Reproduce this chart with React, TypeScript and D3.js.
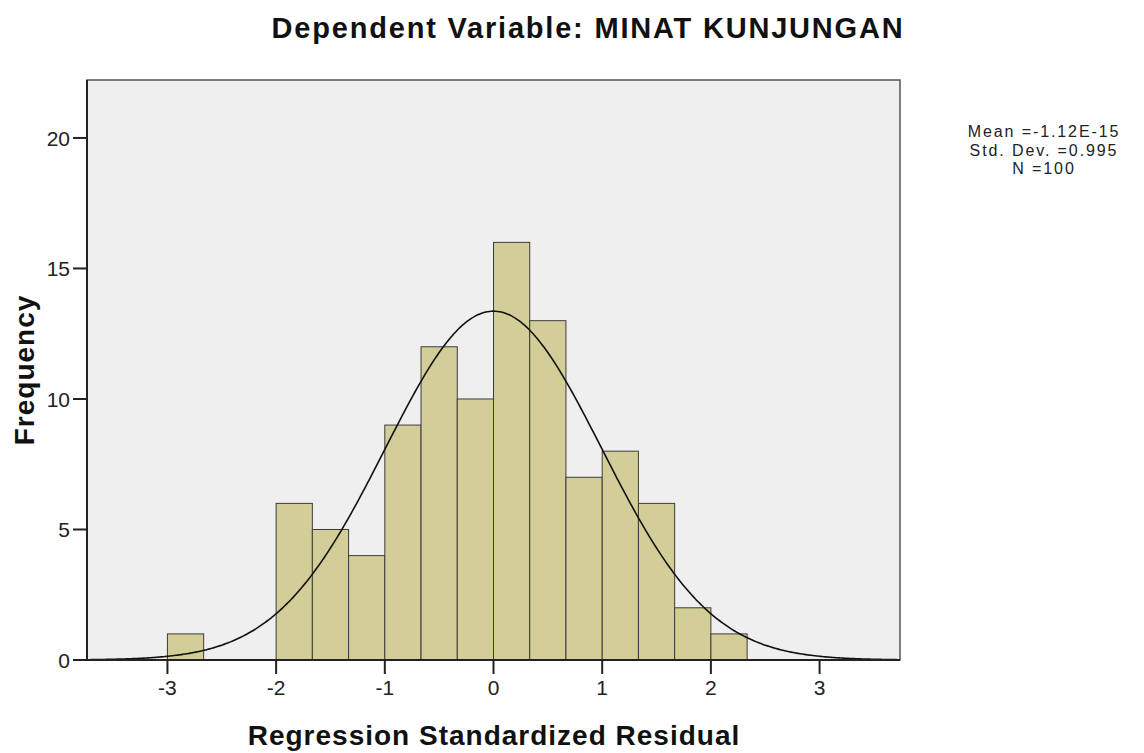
import * as d3 from "d3";
import React, { useEffect, useRef } from "react";

// histogram bins (lower edge, width 1/3) and counts
const binStarts: number[] = [-3, -2, -5 / 3, -4 / 3, -1, -2 / 3, -1 / 3, 0, 1 / 3, 2 / 3, 1, 4 / 3, 5 / 3, 2];
const counts: number[] = [1, 6, 5, 4, 9, 12, 10, 16, 13, 7, 8, 6, 2, 1];
const binWidth = 1 / 3;
const xTicks: number[] = [-3, -2, -1, 0, 1, 2, 3];
const yTicks: number[] = [0, 5, 10, 15, 20];
const stats: string[] = ["Mean =-1.12E-15", "Std. Dev. =0.995", "N =100"];
const mean = -1.12e-15;
const sd = 0.995;
const n = 100;

const App = () => {
	const ref = useRef<SVGSVGElement>(null);

	useEffect(() => {
		const svg = d3.select(ref.current);
		svg.selectAll("*").remove();
		const font = "'Liberation Sans', Arial, sans-serif";

		const loff = 87;
		const roff = 900;
		const toff = 80;
		const boff = 660;

		const xScale = d3.scaleLinear().domain([-3.74, 3.74]).range([loff, roff]);
		const yScale = d3.scaleLinear().domain([0, 22.22]).range([boff, toff]);

		svg.append("rect")
			.attr("x", loff)
			.attr("y", toff)
			.attr("width", roff - loff)
			.attr("height", boff - toff)
			.attr("fill", "#efefef")
			.attr("stroke", "#555")
			.attr("stroke-width", 1.5);

		svg.append("g")
			.selectAll("rect")
			.data(binStarts)
			.join("rect")
			.attr("x", (d) => xScale(d))
			.attr("y", (d, i) => yScale(counts[i]))
			.attr("width", (d) => xScale(d + binWidth) - xScale(d))
			.attr("height", (d, i) => boff - yScale(counts[i]))
			.attr("fill", "#d3ce97")
			.attr("stroke", "#3c3c3c")
			.attr("stroke-width", 1);

		// normal curve scaled to counts
		const curvePts = d3.range(-3.74, 3.7401, 0.02);
		const line = d3
			.line<number>()
			.x((d) => xScale(d))
			.y((d) => yScale((n * binWidth * Math.exp(-0.5 * ((d - mean) / sd) ** 2)) / (sd * Math.sqrt(2 * Math.PI))))
			.curve(d3.curveBasis);
		svg.append("path")
			.datum(curvePts)
			.attr("fill", "none")
			.attr("stroke", "#111")
			.attr("stroke-width", 1.6)
			.attr("d", line);

		// axes lines
		svg.append("line")
			.attr("x1", loff - 14).attr("x2", roff)
			.attr("y1", boff).attr("y2", boff)
			.attr("stroke", "#222").attr("stroke-width", 2);
		svg.append("line")
			.attr("x1", loff).attr("x2", loff)
			.attr("y1", toff).attr("y2", boff)
			.attr("stroke", "#222").attr("stroke-width", 2);

		const yg = svg.append("g");
		yTicks.forEach((t) => {
			yg.append("line")
				.attr("x1", loff - 14).attr("x2", loff)
				.attr("y1", yScale(t)).attr("y2", yScale(t))
				.attr("stroke", "#222").attr("stroke-width", 2);
			yg.append("text")
				.attr("x", loff - 17)
				.attr("y", yScale(t) + 8)
				.attr("text-anchor", "end")
				.attr("font-family", font)
				.attr("font-size", 21)
				.attr("fill", "#222")
				.text(t);
		});

		const xg = svg.append("g");
		xTicks.forEach((t) => {
			xg.append("line")
				.attr("x1", xScale(t)).attr("x2", xScale(t))
				.attr("y1", boff).attr("y2", boff + 14)
				.attr("stroke", "#222").attr("stroke-width", 2);
			xg.append("text")
				.attr("x", xScale(t))
				.attr("y", boff + 35)
				.attr("text-anchor", "middle")
				.attr("font-family", font)
				.attr("font-size", 21)
				.attr("fill", "#222")
				.text(t);
		});

		svg.append("text")
			.attr("x", 588)
			.attr("y", 38)
			.attr("text-anchor", "middle")
			.attr("font-family", font)
			.attr("font-size", 29)
			.attr("font-weight", "bold")
			.attr("letter-spacing", 1.8)
			.attr("fill", "#111")
			.text("Dependent Variable: MINAT KUNJUNGAN");

		svg.append("text")
			.attr("x", 494)
			.attr("y", 745)
			.attr("text-anchor", "middle")
			.attr("font-family", font)
			.attr("font-size", 28)
			.attr("font-weight", "bold")
			.attr("letter-spacing", 1)
			.attr("fill", "#111")
			.text("Regression Standardized Residual");

		svg.append("text")
			.attr("transform", `translate(34, 370) rotate(270)`)
			.attr("text-anchor", "middle")
			.attr("font-family", font)
			.attr("font-size", 28)
			.attr("font-weight", "bold")
			.attr("letter-spacing", 1)
			.attr("fill", "#111")
			.text("Frequency");

		stats.forEach((s, i) => {
			svg.append("text")
				.attr("x", 1044)
				.attr("y", 137 + i * 18.5)
				.attr("text-anchor", "middle")
				.attr("font-family", font)
				.attr("font-size", 16)
				.attr("letter-spacing", 1.9)
				.attr("fill", "#222")
				.text(s);
		});
	}, []);

	return (
		<svg
			ref={ref}
			width={1144}
			height={753}
			style={{ position: "absolute", left: 0, top: 0, background: "#fff" }}
		></svg>
	);
};

export default App;
